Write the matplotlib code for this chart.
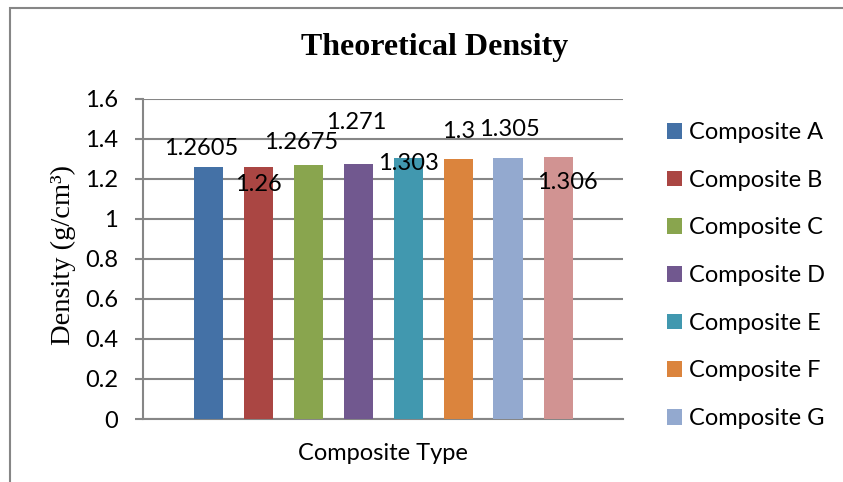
import matplotlib
matplotlib.use("Agg")
import matplotlib.pyplot as plt
from matplotlib.patches import Rectangle, Patch

# composite samples and their theoretical density (g/cm3)
composites = ["Composite A", "Composite B", "Composite C", "Composite D",
              "Composite E", "Composite F", "Composite G", "Composite H"]
density = [1.2605, 1.26, 1.2675, 1.271, 1.303, 1.3, 1.305, 1.306]
value_text = ["1.2605", "1.26", "1.2675", "1.271", "1.303", "1.3", "1.305", "1.306"]
y_ticks = [0, 0.2, 0.4, 0.6, 0.8, 1, 1.2, 1.4, 1.6]
y_tick_text = ["0", "0.2", "0.4", "0.6", "0.8", "1", "1.2", "1.4", "1.6"]

colors = ["#4471A6", "#AA4643", "#89A54E", "#71588F",
          "#4198AF", "#DB843D", "#93A9CF", "#D19392"]
# label offsets (points) so the numbers do not sit on top of each other
label_offsets = [(-5, 13), (0, -13), (-5, 16.5), (-1, 30),
                 (0, -4), (0.7, 19.5), (1, 20), (7, -18)]

sans = "Lato"
serif = "Liberation Serif"
grey = "#868686"

fig = plt.figure(figsize=(8.43, 4.82), dpi=100)
ax = fig.add_axes([143 / 843, 63 / 482, 480 / 843, 320.5 / 482])

x = list(range(len(composites)))
bars = ax.bar(x, density, width=0.58, color=colors, zorder=3)

for i, b in enumerate(bars):
    ax.annotate(value_text[i], (b.get_x() + b.get_width() / 2, b.get_height()),
                xytext=label_offsets[i], textcoords="offset points",
                ha="center", va="center", fontsize=17, family=sans,
                color="black", zorder=4)

ax.set_xlim(-1.3, 8.3)
ax.set_ylim(0, 1.6)
ax.set_yticks(y_ticks)
ax.set_yticklabels(y_tick_text, family=sans, fontsize=17)
ax.set_xticks([])
ax.yaxis.grid(True, color=grey, linewidth=1.5, zorder=0)
ax.tick_params(axis="y", length=6, width=1.5, color=grey, pad=12)

for side in ["top", "right"]:
    ax.spines[side].set_visible(False)
for side in ["left", "bottom"]:
    ax.spines[side].set_color(grey)
    ax.spines[side].set_linewidth(1.5)

# legend only lists the first seven entries
handles = [Patch(facecolor=colors[i], edgecolor="none") for i in range(7)]
fig.legend(handles, composites[:7], loc="upper left",
           bbox_to_anchor=(667 / 843, 1 - 122 / 482), frameon=False,
           prop={"family": sans, "size": 17},
           handlelength=0.65, handleheight=0.65, handletextpad=0.27,
           labelspacing=1.13, borderaxespad=0, borderpad=0)

fig.text(435 / 843, 1 - 47 / 482, "Theoretical Density", ha="center",
         va="center", family=serif, fontweight="bold", fontsize=23)
fig.text(63 / 843, 1 - 255 / 482, "Density (g/cm³)", rotation=90,
         ha="center", va="center", family=serif, fontsize=20.5)
fig.text(383 / 843, 1 - 453 / 482, "Composite Type", ha="center",
         va="center", family=sans, fontsize=17)

# chart frame
fig.add_artist(Rectangle((10 / 843, -0.2), 1.5, 1.2 - 8 / 482,
                         transform=fig.transFigure, fill=False,
                         edgecolor=grey, linewidth=1.5))

fig.savefig("out.png", dpi=100)
